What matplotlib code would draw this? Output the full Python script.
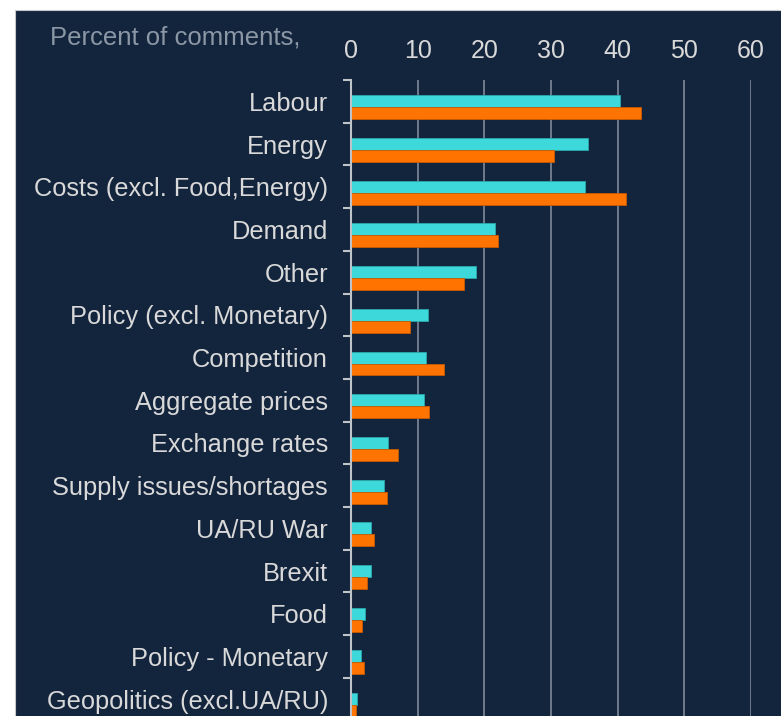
import matplotlib.pyplot as plt
from matplotlib.patches import Rectangle
import numpy as np

# Data
categories = [
    'Labour', 'Energy', 'Costs (excl. Food,Energy)', 'Demand', 'Other',
    'Policy (excl. Monetary)', 'Competition', 'Aggregate prices',
    'Exchange rates', 'Supply issues/shortages', 'UA/RU War', 'Brexit',
    'Food', 'Policy - Monetary', 'Geopolitics (excl.UA/RU)',
]
series_a = [40.4, 35.6, 35.1, 21.6, 18.7, 11.6, 11.2, 10.9, 5.5, 4.9, 3.0, 3.0, 2.1, 1.5, 0.9]
series_b = [43.5, 30.4, 41.3, 22.1, 16.9, 8.9, 14.0, 11.7, 7.1, 5.4, 3.5, 2.4, 1.6, 1.9, 0.8]
x_ticks = [0, 10, 20, 30, 40, 50, 60]

BG = '#13243d'
TEXT = '#d9d9d9'
CYAN = '#3cd8da'
ORANGE = '#ff7300'

plt.rcParams['font.family'] = ['Liberation Sans', 'DejaVu Sans']

W, H = 781, 716
fig = plt.figure(figsize=(W / 100, H / 100), dpi=100, facecolor='white')

# dark panel with thin border
fig.patches.append(Rectangle((15 / W, -0.01), 1.02 - 15 / W, 1 - 10 / H + 0.01,
                             transform=fig.transFigure, facecolor=BG,
                             edgecolor='#c8c8c8', linewidth=0.8, zorder=-5))

# axes placement: x 0 at px 351, 60 at px 751; categories from y=80 with 42.7 px each
n = len(categories)
top_px, step = 80, 42.7
bottom_px = top_px + n * step
ax = fig.add_axes([351 / W, 1 - bottom_px / H, 400 / W, (bottom_px - top_px) / H])
ax.set_zorder(2)
ax.set_facecolor('none')

y = np.arange(n)
h = 0.28
ax.barh(y, series_a, height=h, color=CYAN, edgecolor='#2aa8ac', linewidth=0.6, zorder=3)
ax.barh(y + h, series_b, height=h, color=ORANGE, edgecolor='#c85a00', linewidth=0.6, zorder=3)

ax.set_xlim(0, 60)
ax.set_ylim(n - 0.5, -0.5)
ax.set_xticks(x_ticks)
ax.xaxis.tick_top()
ax.tick_params(axis='x', length=0, pad=12, labelsize=18, labelcolor=TEXT)
ax.grid(axis='x', color='#7f8a9a', linewidth=1.2, zorder=1)

ax.set_yticks(y)
ax.set_yticklabels(categories)
ax.set_yticks(np.arange(n + 1) - 0.5, minor=True)
ax.tick_params(axis='y', which='major', length=0, pad=16.5, labelsize=18.3, labelcolor=TEXT)
ax.tick_params(axis='y', which='minor', length=6, width=1.5, color='#c0c4c8')

for s in ['top', 'right', 'bottom']:
    ax.spines[s].set_visible(False)
ax.spines['left'].set_color('#c0c4c8')
ax.spines['left'].set_linewidth(1.5)
ax.spines['left'].set_zorder(4)

fig.text(50 / W, 1 - 45 / H, 'Percent of comments,', color='#8b97a5',
         fontsize=18.5, va='baseline', ha='left')

plt.savefig('out.png', dpi=100, facecolor='white')
